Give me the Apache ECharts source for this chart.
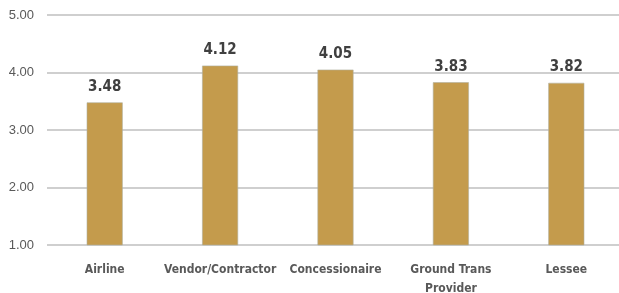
<!DOCTYPE html>
<html>
<head>
<meta charset="utf-8">
<script src="https://cdn.jsdelivr.net/npm/echarts@6/dist/echarts.min.js"></script>
<style>
  html, body { margin: 0; padding: 0; background: #fff; }
  #container { width: 619px; height: 293px; }
</style>
</head>
<body>
<div id="container"></div>
<script>
var categories = ['Airline', 'Vendor/Contractor', 'Concessionaire', 'Ground Trans\nProvider', 'Lessee'];
var scores = [3.48, 4.12, 4.05, 3.83, 3.82];

var condensed = 'DejaVu Sans Condensed, Liberation Sans Narrow, sans-serif';

var chart = echarts.init(document.getElementById('container'));
var option = {
    animation: false,
    grid: {
        left: 47,
        right: -5,
        top: 15,
        bottom: 48,
        outerBoundsMode: 'none'
    },
    xAxis: {
        type: 'category',
        data: categories,
        axisLine: { show: false },
        axisTick: { show: false },
        axisLabel: {
            interval: 0,
            color: '#595959',
            fontFamily: condensed,
            fontWeight: 'bold',
            fontSize: 12,
            margin: 15,
            lineHeight: 19
        }
    },
    yAxis: {
        type: 'value',
        min: 1,
        max: 5,
        interval: 1,
        axisLabel: {
            color: '#595959',
            fontFamily: 'Liberation Sans, sans-serif',
            fontSize: 13,
            margin: 13,
            formatter: function (v) { return v.toFixed(2); }
        },
        splitLine: { lineStyle: { color: '#bfbfbf', width: 1.5 } }
    },
    series: [{
        type: 'bar',
        data: scores,
        barWidth: 36,
        itemStyle: {
            color: '#c49b4c',
            borderColor: '#b0b0a0',
            borderWidth: 0.6
        },
        label: {
            show: true,
            position: 'top',
            distance: 8,
            color: '#404040',
            fontFamily: condensed,
            fontWeight: 'bold',
            fontSize: 15,
            formatter: function (p) { return p.value.toFixed(2); }
        }
    }]
};
chart.setOption(option);
</script>
</body>
</html>
